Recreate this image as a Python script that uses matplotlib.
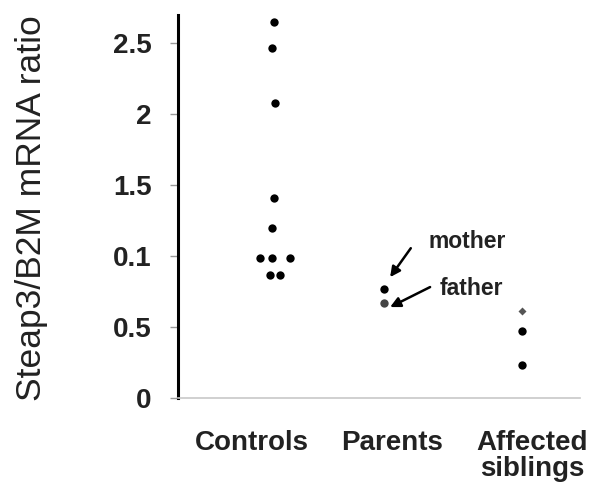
import matplotlib.pyplot as plt

plt.rcParams['font.family'] = ['Liberation Sans', 'DejaVu Sans']

# values
controls_y = [2.65, 2.47, 2.08, 1.41, 1.20, 0.99, 0.99, 0.99, 0.87, 0.87]
controls_x = [0.83, 0.82, 0.84, 0.83, 0.82, 0.71, 0.82, 0.97, 0.80, 0.89]
parents_y = [0.77, 0.67]          # mother, father
parents_x = [1.79, 1.79]
siblings_y = [0.615, 0.47, 0.23]
siblings_x = [2.99, 2.99, 2.99]

group_names = ['Controls', 'Parents', 'Affected\nsiblings']
group_pos = [0.644, 1.862, 3.08]

ytick_vals = [0, 0.5, 1, 1.5, 2, 2.5]
ytick_text = ['0', '0.5', '0.1', '1.5', '2', '2.5']

fig = plt.figure(figsize=(6, 4.91), dpi=100)
ax = fig.add_axes([0.297, 0.1894, 0.67, 0.7801])

ax.plot(controls_x, controls_y, 'o', color='black', ms=6, mec='none')
ax.plot(parents_x[:1], parents_y[:1], 'o', color='black', ms=6, mec='none')
ax.plot(parents_x[1:], parents_y[1:], 'o', color='#444444', ms=6, mec='none')
ax.plot(siblings_x[:1], siblings_y[:1], 'D', color='#555555', ms=4.5, mec='none')
ax.plot(siblings_x[1:], siblings_y[1:], 'o', color='black', ms=6, mec='none')

# arrows pointing at mother / father
arrow = dict(arrowstyle='-|>', color='black', lw=1.8, shrinkA=0, shrinkB=0,
             mutation_scale=15)
ax.annotate('', xy=(1.845, 0.852), xytext=(2.025, 1.056), arrowprops=arrow)
ax.annotate('', xy=(1.845, 0.641), xytext=(2.193, 0.782), arrowprops=arrow)
ax.text(2.515, 1.106, 'mother', fontsize=16.5, fontweight='bold', color='#222222',
        ha='center', va='center')
ax.text(2.55, 0.775, 'father', fontsize=16.5, fontweight='bold', color='#222222',
        ha='center', va='center')

ax.set_xlim(0, 3.5)
ax.set_ylim(0, 2.7)
ax.set_yticks(ytick_vals)
ax.set_yticklabels(ytick_text, fontsize=20, fontweight='bold', color='#222222')
ax.set_xticks(group_pos)
ax.set_xticklabels(group_names, fontsize=20, fontweight='bold', color='#222222',
                   linespacing=1.0, va='top')
ax.tick_params(axis='x', length=0, pad=23)
ax.tick_params(axis='y', length=6, width=1, color='#999999', pad=13)

ax.spines['top'].set_visible(False)
ax.spines['right'].set_visible(False)
ax.spines['left'].set_linewidth(2.2)
ax.spines['bottom'].set_color('#c8c8c8')
ax.spines['bottom'].set_linewidth(1.2)

fig.text(0.052, 0.576, 'Steap3/B2M mRNA ratio', rotation=90, fontsize=25.5,
         color='#222222', ha='center', va='center')

fig.savefig('out.png', dpi=100)
